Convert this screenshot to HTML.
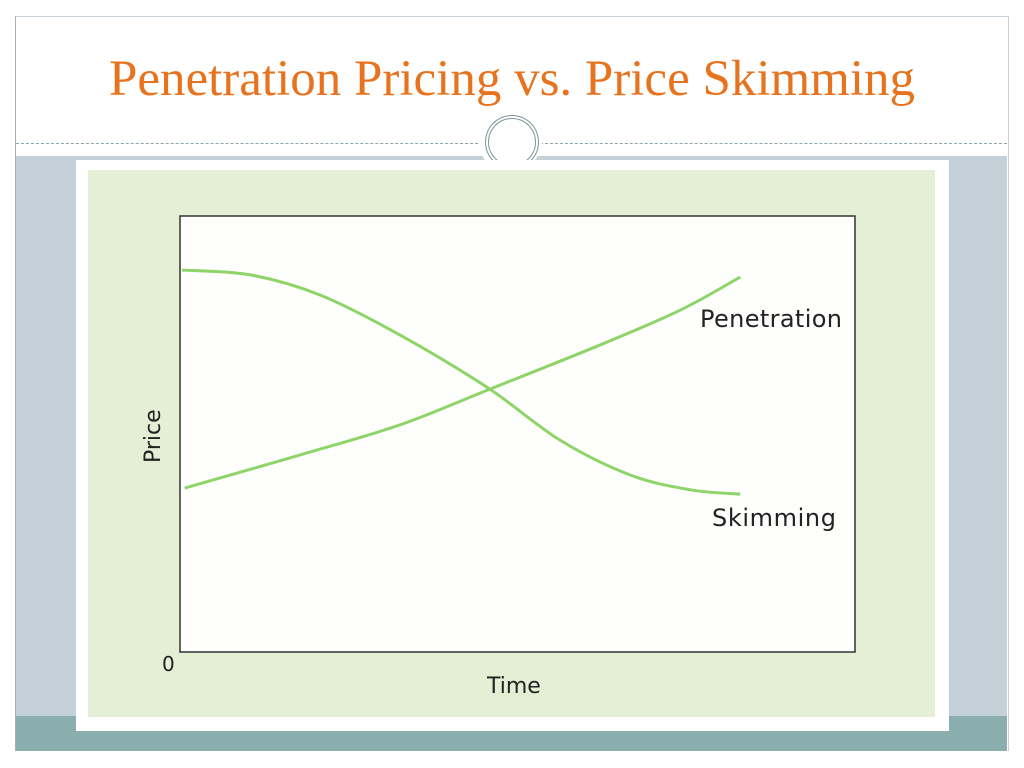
<!DOCTYPE html>
<html><head><meta charset="utf-8"><style>
body{margin:0;width:1024px;height:768px;background:#fff;position:relative;overflow:hidden;font-family:"Liberation Sans",sans-serif}
div{position:absolute}
</style></head><body>
<div style="left:15px;top:16px;width:992px;height:734px;border-left:1px solid #9fb0b8;border-top:1px solid #c8d2d8;border-right:1px solid #c8d2d8"></div>
<div style="left:0;top:50px;width:1024px;text-align:center;font-family:'Liberation Serif',serif;font-size:51px;color:#e8731f;white-space:nowrap">Penetration Pricing vs. Price Skimming</div>
<div style="left:16px;top:143px;width:991px;border-top:1px dashed #8fa4ac"></div>
<div style="left:16px;top:156px;width:991px;height:560px;background:#c5d1d8"></div>
<div style="left:16px;top:716px;width:991px;height:35px;background:#8aadad"></div>
<div style="left:478px;top:108px;width:64px;height:64px;border-radius:50%;background:#fff"></div>
<div style="left:485px;top:115px;width:46px;height:46px;border-radius:50%;border:4px double #7c9398"></div>
<div style="left:76px;top:160px;width:873px;height:571px;background:#fff"></div>
<div style="left:88px;top:170px;width:847px;height:547px;background:#e4efd6"></div>
<svg width="1024" height="768" style="position:absolute;left:0;top:0">
<rect x="180" y="216" width="675" height="436" fill="#fefffc" stroke="#333" stroke-width="1.5"/>
<g id="lines"></g>
<text x="700" y="327" font-family="DejaVu Sans" font-size="24" fill="#222" textLength="142">Penetration</text>
<text x="712" y="526" font-family="DejaVu Sans" font-size="24" fill="#222" textLength="124">Skimming</text>
<text transform="translate(160,463) rotate(-90)" font-family="DejaVu Sans" font-size="22" fill="#222">Price</text>
<text x="487" y="693" font-family="DejaVu Sans" font-size="22" fill="#222">Time</text>
<text x="162" y="671" font-family="DejaVu Sans" font-size="20" fill="#222">0</text>
</svg>
<script>
const skimT=[0.03,1.04,2.07,3.26,4.56,5.63,6.67,7.56,8.30];
const skimP=[8.76,8.65,8.19,7.27,6.06,4.86,4.06,3.72,3.62];
const penT=[0.07,1.78,3.26,4.56,6.22,7.41,8.30];
const penP=[3.76,4.52,5.21,6.01,7.04,7.84,8.60];
function xs(t){return 180+t*67.5;}
function ys(p){return 652-p*43.6;}
function pathOf(T,P){
  const pts=T.map((t,i)=>[xs(t),ys(P[i])]);
  let d='M'+pts[0][0]+','+pts[0][1];
  for(let i=0;i<pts.length-1;i++){
    const p0=pts[Math.max(0,i-1)],p1=pts[i],p2=pts[i+1],p3=pts[Math.min(pts.length-1,i+2)];
    const c1=[p1[0]+(p2[0]-p0[0])/6,p1[1]+(p2[1]-p0[1])/6];
    const c2=[p2[0]-(p3[0]-p1[0])/6,p2[1]-(p3[1]-p1[1])/6];
    d+=' C'+c1+' '+c2+' '+p2;
  }
  return d;
}
const g=document.getElementById('lines');
const ns='http://www.w3.org/2000/svg';
const s=document.createElementNS(ns,'path');


s.setAttribute('d',pathOf(skimT,skimP));
s.setAttribute('fill','none');s.setAttribute('stroke','#8fd468');s.setAttribute('stroke-width','3');
g.appendChild(s);
const p=document.createElementNS(ns,'path');


p.setAttribute('d',pathOf(penT,penP));
p.setAttribute('fill','none');p.setAttribute('stroke','#8fd468');p.setAttribute('stroke-width','3');
g.appendChild(p);
</script>
</body></html>
